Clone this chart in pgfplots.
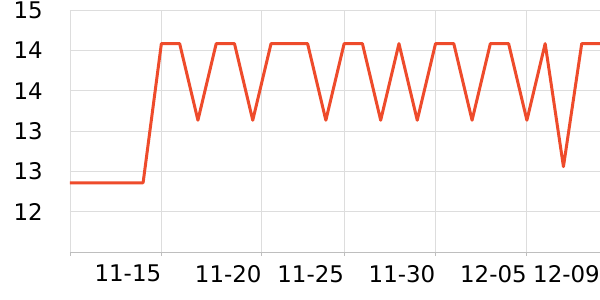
\documentclass[border=0pt]{standalone}
\usepackage{fontspec}
\setmainfont{DejaVu Sans}
\usepackage{pgfplots}
\pgfplotsset{compat=1.18}
\definecolor{linecol}{RGB}{238,75,43}
\definecolor{gridcol}{RGB}{221,221,221}
\definecolor{axiscol}{RGB}{190,190,190}
\begin{document}
\begin{tikzpicture}
\useasboundingbox (-70bp,-48bp) rectangle (530bp,252bp);
\begin{axis}[
  at={(0,0)}, anchor=south west,
  scale only axis, width=530bp, height=242bp,
  xmin=0, xmax=29, ymin=11.4, ymax=15,
  axis line style={draw=none},
  /pgf/number format/assume math mode=true,
  font=\fontsize{23}{27}\selectfont,
  xtick={0,5,10.49,15,20,25,29},
  xticklabels={,11-15,11-20,11-25,11-30,12-05,12-09},
  ytick={12,12.6,13.2,13.8,14.4,15},
  yticklabels={12,13,13,14,14,15},
  xmajorgrids, ymajorgrids,
  major grid style={gridcol, line width=0.8bp},
  xticklabel style={anchor=north east, inner sep=0pt, xshift=0bp, yshift=-13bp},
  yticklabel style={anchor=east, inner sep=0pt, xshift=-27bp},
  major tick length=0pt,
  clip=false,
]
\draw[gridcol, line width=0.8bp] (axis cs:0,11.4) -- (axis cs:0,15);
\draw[axiscol, line width=0.8bp] (axis cs:0,11.4) -- (axis cs:29,11.4);
\pgfplotsinvokeforeach{0,5,10.49,15,20,25,29}{
  \draw[axiscol, line width=0.8bp] (axis cs:#1,11.4) -- ([yshift=-4bp]axis cs:#1,11.4);
}
\addplot[linecol, line width=3bp, line join=round, mark=none] coordinates {
(0,12.43) (1,12.43) (2,12.43) (3,12.43) (4,12.43)
(5,14.5) (6,14.5) (7,13.36) (8,14.5) (9,14.5)
(10,13.36) (11,14.5) (12,14.5) (13,14.5) (14,13.36)
(15,14.5) (16,14.5) (17,13.36) (18,14.5) (19,13.36)
(20,14.5) (21,14.5) (22,13.36) (23,14.5) (24,14.5)
(25,13.36) (26,14.5) (27,12.67) (28,14.5) (29,14.5)
};
\end{axis}
\end{tikzpicture}
\end{document}
